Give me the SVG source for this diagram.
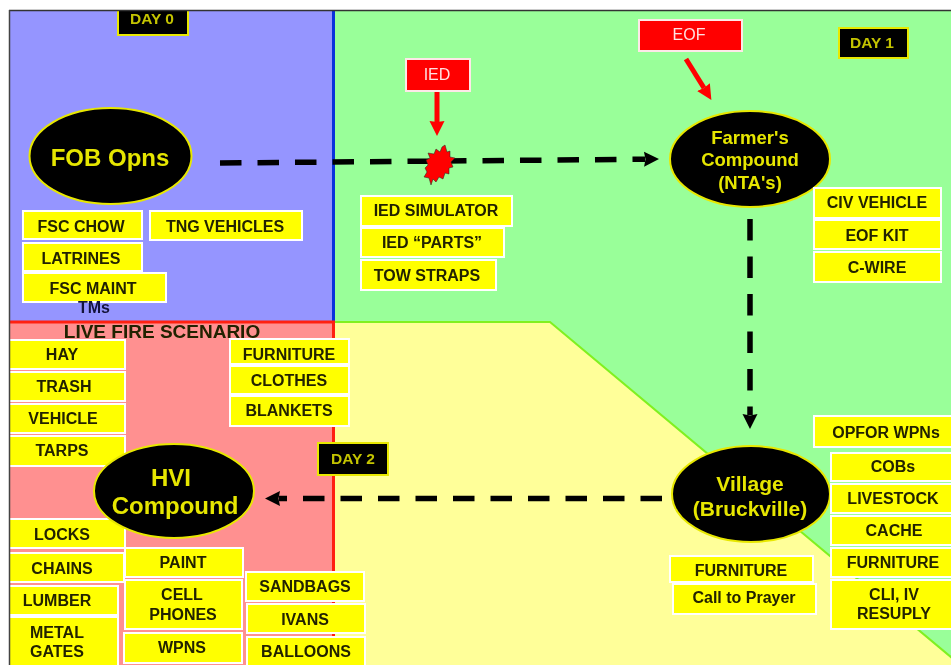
<svg xmlns="http://www.w3.org/2000/svg" width="951" height="665" viewBox="0 0 951 665">
<style>
text{font-family:"Liberation Sans",Arial,sans-serif;font-weight:700;font-size:16px;text-anchor:middle;fill:#222200}
.b{fill:#ff0;stroke:#fff;stroke-width:2}
.r{fill:#f00;stroke:#ffe8e8;stroke-width:2}
.r+text{fill:#ffe0e0;font-weight:400}
.d{fill:#000;stroke:#e8e800;stroke-width:2}
.d+text{fill:#c4c400;font-size:15.500px}
.e{fill:#000;stroke:#e8e800;stroke-width:2}
.et{fill:#e6e600;font-size:24px}
.f{font-size:18.500px}
.v{font-size:21px}
.c{fill:none;stroke:#000;stroke-width:5.500;stroke-dasharray:21.500 16}
.a{fill:none;stroke:#f00;stroke-width:5}
</style>
<defs>
<filter id="soft" filterUnits="userSpaceOnUse" x="0" y="0" width="951" height="665" color-interpolation-filters="sRGB"><feGaussianBlur stdDeviation="0.7"/></filter>
<marker id="hk" markerUnits="userSpaceOnUse" markerWidth="16" markerHeight="16" refX="1" refY="8" orient="auto"><path d="M0,0.500L15,8L0,15.500L1.500,8z" fill="#000"/></marker>
<marker id="hr" markerUnits="userSpaceOnUse" markerWidth="16" markerHeight="16" refX="1" refY="8" orient="auto"><path d="M0,0.500L15,8L0,15.500L1,8z" fill="#f00"/></marker>
</defs>
<rect width="951" height="665" fill="#fff"/>
<g filter="url(#soft)">
<g id="regions">
<rect x="9" y="10" width="324" height="312" fill="#9595ff"/>
<rect x="334" y="10" width="617" height="655" fill="#99ff99"/>
<path d="M334,322H550L958,663V672H334z" fill="#ffff99" stroke="#80f020" stroke-width="2"/>
<rect x="9" y="322" width="325" height="343" fill="#ff9090"/>
<path d="M333.500,10V322" stroke="#0a32dc" stroke-width="3" fill="none"/>
<path d="M9,322H333.500V665" stroke="#ff2010" stroke-width="3" fill="none"/>
</g>
<g id="connectors">
<path class="c" d="M220,163L645,159.200" marker-end="url(#hk)"/>
<path class="c" d="M750,219V415" marker-end="url(#hk)"/>
<path class="c" d="M662,498.500H279" marker-end="url(#hk)"/>
<path class="a" d="M437,91V122" marker-end="url(#hr)"/>
<path class="a" d="M686,59L704,88" marker-end="url(#hr)"/>
</g>
<polygon id="burst" points="445,145 447,152 450,151 450,157 455,158 451,162 453,167 449,168 449,174 445,173 443,179 439,177 436,182 433,179 431,185 429,178 424,177 427,172 425,168 428,165 426,160 430,158 428,153 434,154 436,149 440,152 442,147" fill="#f00" stroke="#222" stroke-width="0.500"/>
<g id="day0"><rect class="d" x="118" y="-4" width="70" height="39"/><text x="152" y="23.500">DAY 0</text></g>
<g id="day1"><rect class="d" x="839" y="28" width="69" height="30"/><text x="872" y="47.500">DAY 1</text></g>
<g id="day2"><rect class="d" x="318" y="443" width="70" height="32"/><text x="353" y="464">DAY 2</text></g>
<g id="ied"><rect class="r" x="406" y="59" width="64" height="32"/><text x="437" y="80">IED</text></g>
<g id="eof"><rect class="r" x="639" y="20" width="103" height="31"/><text x="689" y="40">EOF</text></g>
<g id="fob"><ellipse class="e" cx="110.500" cy="156" rx="81" ry="48"/><text class="et" x="110" y="165.500">FOB Opns</text></g>
<g id="farmer"><ellipse class="e" cx="750" cy="159" rx="80" ry="48"/><text class="et f" x="750" y="144">Farmer's</text><text class="et f" x="750" y="166">Compound</text><text class="et f" x="750" y="189">(NTA's)</text></g>
<g id="village"><ellipse class="e" cx="751" cy="494" rx="79" ry="48"/><text class="et v" x="750" y="491">Village</text><text class="et v" x="750" y="516">(Bruckville)</text></g>
<g id="b-fsc-chow"><rect class="b" x="23" y="211" width="119" height="28"/><text x="81" y="232">FSC CHOW</text></g>
<g id="b-tng"><rect class="b" x="150" y="211" width="152" height="29"/><text x="225" y="232">TNG VEHICLES</text></g>
<g id="b-latrines"><rect class="b" x="23" y="243" width="119" height="28"/><text x="81" y="263.500">LATRINES</text></g>
<g id="b-fsc-maint"><rect class="b" x="23" y="273" width="143" height="29"/><text x="93" y="294">FSC MAINT</text></g>
<text id="tms" x="94" y="313" style="fill:#14143c">TMs</text>
<text id="live-fire" x="162" y="338" style="font-size:19px">LIVE FIRE SCENARIO</text>
<g id="b-sim"><rect class="b" x="361" y="196" width="151" height="30"/><text x="436" y="216">IED SIMULATOR</text></g>
<g id="b-parts"><rect class="b" x="361" y="228" width="143" height="29"/><text x="432" y="247.500">IED “PARTS”</text></g>
<g id="b-tow"><rect class="b" x="361" y="260" width="135" height="30"/><text x="427" y="281">TOW STRAPS</text></g>
<g id="b-civ"><rect class="b" x="814" y="188" width="127" height="30"/><text x="877" y="207.500">CIV VEHICLE</text></g>
<g id="b-eofkit"><rect class="b" x="814" y="220" width="127" height="29"/><text x="877" y="240.500">EOF KIT</text></g>
<g id="b-cwire"><rect class="b" x="814" y="252" width="127" height="30"/><text x="877" y="272.500">C-WIRE</text></g>
<g id="b-hay"><rect class="b" x="6" y="340" width="119" height="29"/><text x="62" y="360">HAY</text></g>
<g id="b-trash"><rect class="b" x="6" y="372" width="119" height="29"/><text x="64" y="392">TRASH</text></g>
<g id="b-vehicle"><rect class="b" x="6" y="404" width="119" height="29"/><text x="63" y="424">VEHICLE</text></g>
<g id="b-tarps"><rect class="b" x="6" y="436" width="119" height="30"/><text x="62" y="456">TARPS</text></g>
<g id="b-locks"><rect class="b" x="6" y="519" width="119" height="29"/><text x="62" y="540">LOCKS</text></g>
<g id="b-chains"><rect class="b" x="6" y="553" width="118" height="29"/><text x="62" y="574">CHAINS</text></g>
<g id="b-lumber"><rect class="b" x="6" y="586" width="112" height="29"/><text x="57" y="606">LUMBER</text></g>
<g id="b-gates"><rect class="b" x="6" y="617" width="112" height="52"/><text x="57" y="638">METAL</text><text x="57" y="657">GATES</text></g>
<g id="hvi"><ellipse class="e" cx="174" cy="491" rx="80" ry="47"/><text class="et" x="171" y="485.500">HVI</text><text class="et" x="175" y="514">Compound</text></g>
<g id="b-paint"><rect class="b" x="125" y="548" width="118" height="29"/><text x="183" y="568">PAINT</text></g>
<g id="b-cell"><rect class="b" x="125" y="580" width="117" height="49"/><text x="182" y="600">CELL</text><text x="183" y="620">PHONES</text></g>
<g id="b-wpns"><rect class="b" x="124" y="633" width="118" height="30"/><text x="182" y="653">WPNS</text></g>
<g id="b-sandbags"><rect class="b" x="246" y="572" width="118" height="29"/><text x="305" y="592">SANDBAGS</text></g>
<g id="b-ivans"><rect class="b" x="247" y="604" width="118" height="29"/><text x="305" y="625">IVANS</text></g>
<g id="b-balloons"><rect class="b" x="247" y="637" width="118" height="32"/><text x="306" y="657">BALLOONS</text></g>
<g id="b-furn1"><rect class="b" x="230" y="339" width="119" height="25"/><text x="289" y="360">FURNITURE</text></g>
<g id="b-clothes"><rect class="b" x="230" y="366" width="119" height="28"/><text x="289" y="386">CLOTHES</text></g>
<g id="b-blankets"><rect class="b" x="230" y="396" width="119" height="30"/><text x="289" y="416">BLANKETS</text></g>
<g id="b-opfor"><rect class="b" x="814" y="416" width="140" height="31"/><text x="886" y="438">OPFOR WPNs</text></g>
<g id="b-cobs"><rect class="b" x="831" y="453" width="123" height="28"/><text x="893" y="472">COBs</text></g>
<g id="b-livestock"><rect class="b" x="831" y="484" width="123" height="29"/><text x="893" y="504">LIVESTOCK</text></g>
<g id="b-cache"><rect class="b" x="831" y="516" width="123" height="29"/><text x="894" y="536">CACHE</text></g>
<g id="b-furn3"><rect class="b" x="831" y="548" width="123" height="29"/><text x="893" y="568">FURNITURE</text></g>
<g id="b-cli"><rect class="b" x="831" y="580" width="123" height="49"/><text x="894" y="600">CLI, IV</text><text x="894" y="619">RESUPLY</text></g>
<g id="b-furn2"><rect class="b" x="670" y="556" width="143" height="26"/><text x="741" y="576">FURNITURE</text></g>
<g id="b-prayer"><rect class="b" x="673" y="584" width="143" height="30"/><text x="744" y="603">Call to Prayer</text></g>
<g id="frame">
<rect x="0" y="0" width="951" height="10" fill="#fff"/>
<rect x="0" y="0" width="9" height="665" fill="#fff"/>
<path d="M9,10.500H951" stroke="#333" stroke-width="1.500" fill="none"/>
<path d="M9.500,10V665" stroke="#444" stroke-width="1.500" fill="none"/>
</g>
</g>
</svg>
